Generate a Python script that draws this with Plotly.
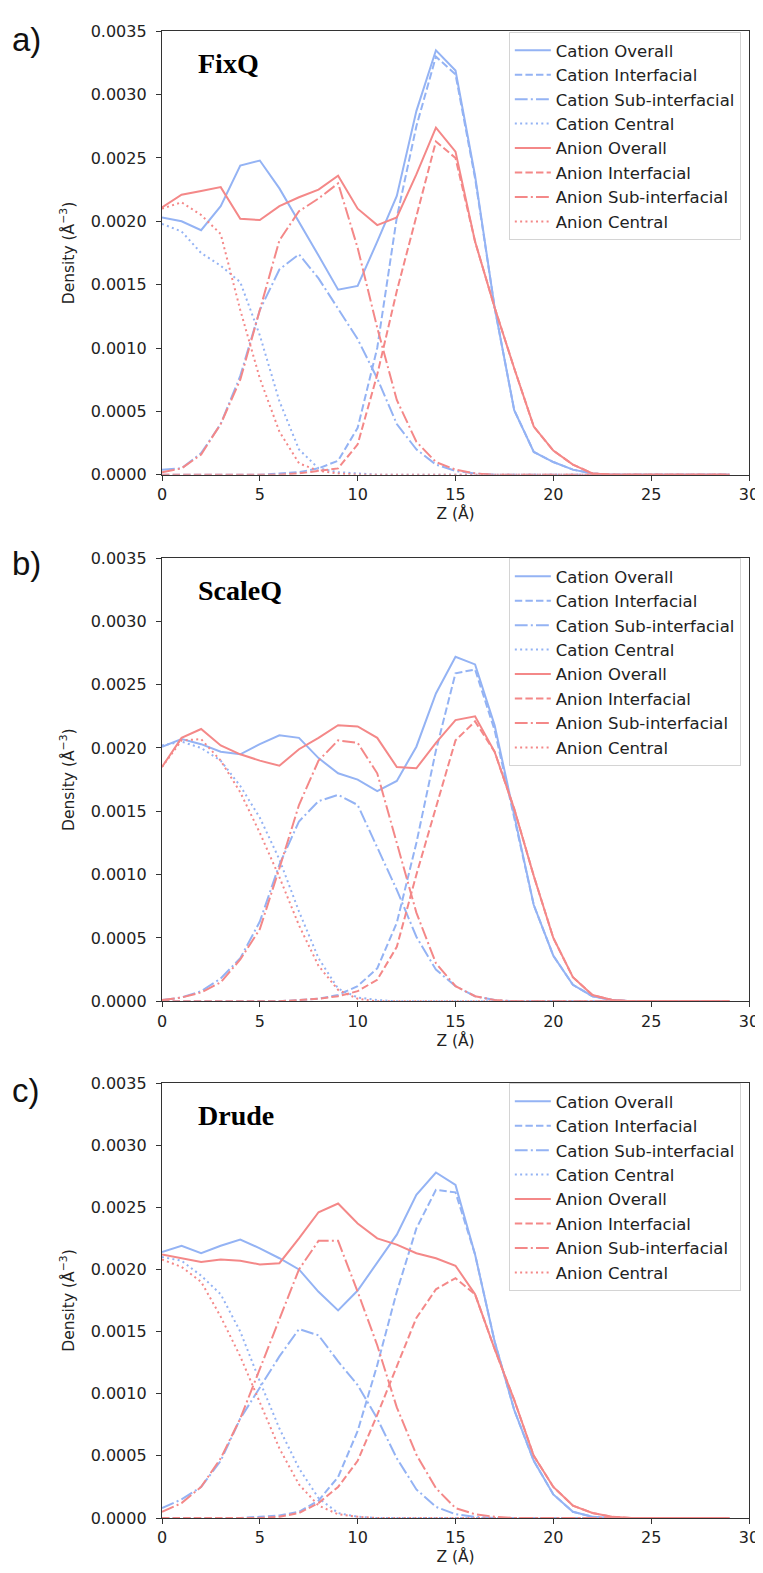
import plotly.graph_objects as go

z = list(range(30))

# ---------------- Panel a: FixQ ----------------
a_cat_overall = [0.00203, 0.00200, 0.00193, 0.00212, 0.00244, 0.00248, 0.00226, 0.00200, 0.00173, 0.00146,
                 0.00149, 0.00184, 0.00220, 0.00287, 0.00335, 0.00319, 0.00236, 0.00132, 0.00051, 0.00018,
                 0.00010, 0.00004, 0.00001, 0, 0, 0, 0, 0, 0, 0]
a_cat_inter = [0, 0, 0, 0, 0, 0, 0.00001, 0.00002, 0.00005, 0.00011,
               0.00037, 0.00100, 0.00203, 0.00275, 0.00330, 0.00316, 0.00234, 0.00132, 0.00051, 0.00018,
               0.00010, 0.00004, 0.00001, 0, 0, 0, 0, 0, 0, 0]
a_cat_sub = [0.00004, 0.00005, 0.00017, 0.00040, 0.00078, 0.00130, 0.00162, 0.00174, 0.00155, 0.00131,
             0.00107, 0.00076, 0.00040, 0.00020, 0.00008, 0.00003, 0.00001, 0, 0, 0,
             0, 0, 0, 0, 0, 0, 0, 0, 0, 0]
a_cat_cent = [0.00198, 0.00192, 0.00175, 0.00165, 0.00152, 0.00110, 0.00058, 0.00020, 0.00005, 0.00002,
              0.00001, 0, 0, 0, 0, 0, 0, 0, 0, 0,
              0, 0, 0, 0, 0, 0, 0, 0, 0, 0]
a_an_overall = [0.00211, 0.00221, 0.00224, 0.00227, 0.00202, 0.00201, 0.00212, 0.00219, 0.00225, 0.00236,
                0.00210, 0.00197, 0.00203, 0.00237, 0.00274, 0.00255, 0.00184, 0.00132, 0.00084, 0.00038,
                0.00019, 0.00008, 0.00001, 0, 0, 0, 0, 0, 0, 0]
a_an_inter = [0, 0, 0, 0, 0, 0, 0, 0.00001, 0.00003, 0.00005,
              0.00024, 0.00079, 0.00145, 0.00205, 0.00263, 0.00250, 0.00184, 0.00132, 0.00084, 0.00038,
              0.00019, 0.00008, 0.00001, 0, 0, 0, 0, 0, 0, 0]
a_an_sub = [0.00002, 0.00005, 0.00016, 0.00040, 0.00075, 0.00130, 0.00185, 0.00208, 0.00218, 0.00230,
            0.00179, 0.00116, 0.00059, 0.00026, 0.00010, 0.00004, 0.00001, 0, 0, 0,
            0, 0, 0, 0, 0, 0, 0, 0, 0, 0]
a_an_cent = [0.00210, 0.00215, 0.00205, 0.00190, 0.00130, 0.00076, 0.00034, 0.00009, 0.00003, 0.00001,
             0, 0, 0, 0, 0, 0, 0, 0, 0, 0,
             0, 0, 0, 0, 0, 0, 0, 0, 0, 0]

# ---------------- Panel b: ScaleQ ----------------
b_cat_overall = [0.00201, 0.00207, 0.00203, 0.00197, 0.00195, 0.00203, 0.00210, 0.00208, 0.00192, 0.00180,
                 0.00175, 0.00166, 0.00174, 0.00201, 0.00243, 0.00272, 0.00266, 0.00218, 0.00147, 0.00076,
                 0.00036, 0.00013, 0.00004, 0.00001, 0, 0, 0, 0, 0, 0]
b_cat_inter = [0, 0, 0, 0, 0, 0, 0, 0.00001, 0.00002, 0.00005,
               0.00012, 0.00026, 0.00062, 0.00125, 0.00198, 0.00259, 0.00262, 0.00214, 0.00146, 0.00076,
               0.00036, 0.00013, 0.00004, 0.00001, 0, 0, 0, 0, 0, 0]
b_cat_sub = [0.00001, 0.00003, 0.00008, 0.00018, 0.00034, 0.00063, 0.00108, 0.00142, 0.00158, 0.00163,
             0.00155, 0.00122, 0.00088, 0.00051, 0.00025, 0.00012, 0.00004, 0.00001, 0, 0,
             0, 0, 0, 0, 0, 0, 0, 0, 0, 0]
b_cat_cent = [0.00202, 0.00205, 0.00200, 0.00190, 0.00170, 0.00145, 0.00112, 0.00071, 0.00034, 0.00010,
              0.00003, 0.00001, 0, 0, 0, 0, 0, 0, 0, 0,
              0, 0, 0, 0, 0, 0, 0, 0, 0, 0]
b_an_overall = [0.00185, 0.00208, 0.00215, 0.00202, 0.00195, 0.00190, 0.00186, 0.00199, 0.00208, 0.00218,
                0.00217, 0.00208, 0.00185, 0.00184, 0.00204, 0.00222, 0.00225, 0.00197, 0.00152, 0.00099,
                0.00050, 0.00019, 0.00005, 0.00001, 0, 0, 0, 0, 0, 0]
b_an_inter = [0, 0, 0, 0, 0, 0, 0, 0.00001, 0.00002, 0.00004,
              0.00008, 0.00017, 0.00043, 0.00100, 0.00154, 0.00206, 0.00221, 0.00197, 0.00152, 0.00099,
              0.00050, 0.00019, 0.00005, 0.00001, 0, 0, 0, 0, 0, 0]
b_an_sub = [0.00001, 0.00003, 0.00007, 0.00015, 0.00033, 0.00057, 0.00105, 0.00155, 0.00190, 0.00206,
            0.00204, 0.00180, 0.00125, 0.00070, 0.00030, 0.00012, 0.00004, 0.00001, 0, 0,
            0, 0, 0, 0, 0, 0, 0, 0, 0, 0]
b_an_cent = [0.00185, 0.00206, 0.00207, 0.00190, 0.00165, 0.00133, 0.00098, 0.00060, 0.00028, 0.00009,
             0.00002, 0, 0, 0, 0, 0, 0, 0, 0, 0,
             0, 0, 0, 0, 0, 0, 0, 0, 0, 0]

# ---------------- Panel c: Drude ----------------
c_cat_overall = [0.00214, 0.00219, 0.00213, 0.00219, 0.00224, 0.00217, 0.00209, 0.00200, 0.00182, 0.00167,
                 0.00183, 0.00205, 0.00228, 0.00260, 0.00278, 0.00268, 0.00212, 0.00142, 0.00087, 0.00046,
                 0.00019, 0.00005, 0.00001, 0, 0, 0, 0, 0, 0, 0]
c_cat_inter = [0, 0, 0, 0, 0, 0.00001, 0.00002, 0.00005, 0.00014, 0.00033,
               0.00070, 0.00123, 0.00182, 0.00233, 0.00264, 0.00262, 0.00212, 0.00142, 0.00087, 0.00046,
               0.00019, 0.00005, 0.00001, 0, 0, 0, 0, 0, 0, 0]
c_cat_sub = [0.00008, 0.00015, 0.00025, 0.00046, 0.00080, 0.00105, 0.00130, 0.00152, 0.00147, 0.00126,
             0.00107, 0.00080, 0.00048, 0.00023, 0.00009, 0.00003, 0.00001, 0, 0, 0,
             0, 0, 0, 0, 0, 0, 0, 0, 0, 0]
c_cat_cent = [0.00210, 0.00207, 0.00195, 0.00180, 0.00150, 0.00110, 0.00072, 0.00040, 0.00016, 0.00004,
              0.00001, 0, 0, 0, 0, 0, 0, 0, 0, 0,
              0, 0, 0, 0, 0, 0, 0, 0, 0, 0]
c_an_overall = [0.00212, 0.00209, 0.00206, 0.00208, 0.00207, 0.00204, 0.00205, 0.00225, 0.00246, 0.00253,
                0.00237, 0.00225, 0.00220, 0.00213, 0.00209, 0.00203, 0.00180, 0.00136, 0.00095, 0.00050,
                0.00025, 0.00010, 0.00004, 0.00001, 0, 0, 0, 0, 0, 0]
c_an_inter = [0, 0, 0, 0, 0, 0, 0.00001, 0.00004, 0.00012, 0.00025,
              0.00046, 0.00083, 0.00122, 0.00161, 0.00184, 0.00193, 0.00180, 0.00136, 0.00095, 0.00050,
              0.00025, 0.00010, 0.00004, 0.00001, 0, 0, 0, 0, 0, 0]
c_an_sub = [0.00005, 0.00012, 0.00025, 0.00048, 0.00080, 0.00120, 0.00160, 0.00200, 0.00223, 0.00223,
            0.00182, 0.00139, 0.00089, 0.00051, 0.00024, 0.00008, 0.00003, 0.00001, 0, 0,
            0, 0, 0, 0, 0, 0, 0, 0, 0, 0]
c_an_cent = [0.00208, 0.00202, 0.00190, 0.00162, 0.00130, 0.00093, 0.00056, 0.00027, 0.00010, 0.00003,
             0.00001, 0, 0, 0, 0, 0, 0, 0, 0, 0,
             0, 0, 0, 0, 0, 0, 0, 0, 0, 0]

series_names = ["Cation Overall", "Cation Interfacial", "Cation Sub-interfacial", "Cation Central",
                "Anion Overall", "Anion Interfacial", "Anion Sub-interfacial", "Anion Central"]
panel_titles = ["FixQ", "ScaleQ", "Drude"]
panel_letters = ["a)", "b)", "c)"]
x_ticks = [0, 5, 10, 15, 20, 25, 30]
y_ticks = [0.0, 0.0005, 0.0010, 0.0015, 0.0020, 0.0025, 0.0030, 0.0035]

panels = [
    [a_cat_overall, a_cat_inter, a_cat_sub, a_cat_cent, a_an_overall, a_an_inter, a_an_sub, a_an_cent],
    [b_cat_overall, b_cat_inter, b_cat_sub, b_cat_cent, b_an_overall, b_an_inter, b_an_sub, b_an_cent],
    [c_cat_overall, c_cat_inter, c_cat_sub, c_cat_cent, c_an_overall, c_an_inter, c_an_sub, c_an_cent],
]

BLUE = "#94b3f4"
RED = "#f48888"
colors = [BLUE] * 4 + [RED] * 4
dashes = ["solid", "7.4px,3.2px", "12.8px,3.2px,2px,3.2px", "2px,3.3px"] * 2

W, H = 763, 1573
ML, MR, MT, MB = 154, 13, 23, 63
PH = H - MT - MB
# pixel extents (top, bottom) of each plot area
pix = [(23.3, 466.7), (550.0, 993.3), (1075.0, 1510.0)]


def py(p):
    return (H - MB - p) / PH


def px(p):
    return (p - ML) / (W - ML - MR)


fig = go.Figure()
tick_font = dict(family="DejaVu Sans", size=16, color="#222222")
title_font = dict(family="DejaVu Sans", size=15.5, color="#222222")
legend_tops = [24, 550, 1075]
title_y = [55, 582, 1107]
letter_y = [32, 555, 1082]

for i, data in enumerate(panels):
    k = "" if i == 0 else str(i + 1)
    lg = "legend" if i == 0 else f"legend{i + 1}"
    for j, ys in enumerate(data):
        fig.add_trace(go.Scatter(
            x=z, y=ys, mode="lines", name=series_names[j],
            line=dict(color=colors[j], width=2, dash=dashes[j]),
            xaxis="x" + k, yaxis="y" + k, legend=lg,
        ))
    top, bot = pix[i]
    fig.layout["xaxis" + k] = dict(
        domain=[0, 1], anchor="y" + k, range=[0, 30], tickvals=x_ticks,
        ticks="outside", ticklen=5, tickwidth=1.2, tickcolor="#333333",
        showline=True, linecolor="#333333", linewidth=1.3, mirror=True,
        showgrid=False, zeroline=False, tickfont=tick_font,
        title=dict(text="Z (Å)", font=title_font, standoff=2),
    )
    fig.layout["yaxis" + k] = dict(
        domain=[py(bot), py(top)], anchor="x" + k, range=[0, 0.0035], tickvals=y_ticks,
        tickformat=".4f", ticks="outside", ticklen=5, tickwidth=1.2, tickcolor="#333333",
        showline=True, linecolor="#333333", linewidth=1.3, mirror=True,
        showgrid=False, zeroline=False, tickfont=tick_font, ticklabelstandoff=6,
        title=dict(text="Density (Å<sup>−3</sup>)", font=title_font, standoff=12),
    )
    fig.layout[lg] = dict(
        x=px(741.7), xanchor="right", y=py(legend_tops[i]), yanchor="top",
        xref="paper", yref="paper",
        bgcolor="rgba(255,255,255,0.9)", bordercolor="#d4d4d4", borderwidth=1,
        font=dict(family="DejaVu Sans", size=16.5, color="#222222"),
        tracegroupgap=0, itemwidth=36,
    )
    fig.add_annotation(
        x=px(189), y=py(title_y[i]), xref="paper", yref="paper", xanchor="left", yanchor="middle",
        text=f"<b>{panel_titles[i]}</b>", showarrow=False,
        font=dict(family="Liberation Serif", size=28, color="#000000"),
    )
    fig.add_annotation(
        x=px(0), y=py(letter_y[i]), xref="paper", yref="paper", xanchor="left", yanchor="middle",
        text=panel_letters[i], showarrow=False,
        font=dict(family="Liberation Sans", size=33, color="#111111"),
    )

fig.update_layout(
    width=W, height=H, margin=dict(l=ML, r=MR, t=MT, b=MB),
    paper_bgcolor="white", plot_bgcolor="white", showlegend=True,
)

fig.write_html("out.html")
